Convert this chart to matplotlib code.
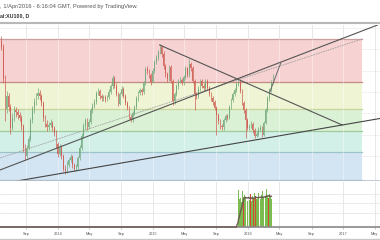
import matplotlib
matplotlib.use('Agg')
import matplotlib.pyplot as plt
import matplotlib.dates as mdates
import numpy as np
import pandas as pd

plt.rcParams['font.family'] = ['Liberation Sans', 'DejaVu Sans']

# ---------------- data (price in thousands, weekly candles) ----------------
first_open = 92.0
closes = [90.5, 83.0, 76.0, 79.0, 76.5, 71.5, 74.0, 75.8, 75.3, 74.5,
          73.9, 72.0, 67.0, 65.0, 67.0, 69.0, 73.4, 76.0, 77.7, 79.0,
          79.8, 79.0, 77.5, 74.0, 72.5, 71.8, 72.3, 72.7, 71.5, 70.4,
          67.8, 65.5, 67.0, 65.0, 62.0, 61.5, 63.0, 64.0, 64.8, 62.8,
          62.0, 62.5, 64.5, 67.0, 69.8, 72.0, 73.4, 71.9, 73.0, 75.8,
          76.8, 77.6, 79.8, 80.3, 79.0, 78.5, 78.8, 78.3, 78.8, 80.0,
          81.3, 83.3, 81.5, 79.5, 77.3, 79.5, 80.8, 79.0, 77.5, 76.3,
          74.2, 73.5, 75.0, 76.5, 78.5, 79.8, 80.5, 80.0, 82.0, 85.3,
          84.8, 84.0, 82.3, 85.0, 87.0, 88.0, 89.3, 90.6, 89.0, 86.0,
          84.2, 83.0, 85.8, 82.5, 77.8, 79.5, 81.3, 82.5, 82.8, 82.2,
          83.5, 85.5, 84.0, 86.5, 85.5, 82.5, 79.5, 79.0, 80.8, 82.5,
          81.5, 80.9, 82.6, 81.0, 79.6, 78.6, 77.6, 76.3, 74.5, 73.2,
          72.0, 71.7, 73.5, 74.3, 74.0, 76.5, 78.2, 79.5, 80.5, 81.8,
          82.3, 80.3, 77.5, 75.8, 73.5, 71.5, 72.0, 72.5, 71.0, 69.8,
          70.2, 71.2, 71.5, 70.0, 72.8, 75.8, 78.5, 80.5, 82.2, 83.5]
highs = [93.2, 91.2, 84.0, 80.2, 79.8, 77.2, 75.0, 76.8, 76.6, 76.0,
         75.3, 74.6, 72.5, 67.8, 67.6, 69.8, 74.0, 76.8, 78.5, 79.8,
         81.0, 80.4, 79.5, 77.9, 74.6, 73.4, 73.0, 73.6, 73.3, 72.1,
         71.0, 68.3, 67.8, 67.6, 65.4, 62.8, 63.8, 64.6, 65.6, 65.2,
         63.4, 63.2, 65.0, 67.6, 70.4, 72.7, 74.0, 73.9, 73.6, 76.3,
         77.4, 78.3, 80.3, 80.9, 80.8, 79.6, 79.4, 79.4, 79.3, 80.6,
         81.9, 83.9, 83.7, 82.0, 80.0, 79.9, 81.3, 81.2, 79.5, 78.0,
         76.8, 74.7, 75.5, 77.0, 79.0, 80.3, 81.0, 81.0, 82.5, 85.9,
         86.0, 85.4, 84.5, 85.5, 87.6, 88.6, 89.9, 91.3, 91.0, 89.5,
         86.5, 84.7, 86.4, 86.3, 83.0, 80.0, 81.8, 83.0, 83.4, 83.3,
         84.0, 86.0, 85.9, 87.8, 87.0, 86.0, 83.0, 80.1, 81.3, 83.0,
         83.0, 82.1, 83.1, 83.0, 81.5, 80.1, 79.1, 78.1, 76.8, 75.0,
         73.7, 72.6, 74.0, 74.8, 74.9, 77.0, 78.7, 80.0, 81.0, 82.3,
         82.9, 82.7, 80.8, 78.0, 76.3, 74.0, 72.6, 73.2, 73.0, 71.5,
         70.8, 71.8, 72.2, 72.0, 73.3, 76.3, 79.0, 81.0, 82.8, 84.1]
lows = [89.8, 82.0, 73.3, 75.2, 75.5, 70.2, 71.0, 73.2, 74.2, 73.6,
        73.2, 71.2, 66.0, 64.2, 64.5, 66.4, 68.5, 72.8, 75.2, 77.0,
        78.4, 78.2, 76.8, 73.2, 71.8, 70.9, 71.2, 71.7, 70.8, 69.6,
        67.0, 64.7, 65.0, 64.3, 61.5, 60.9, 61.0, 62.4, 63.5, 62.2,
        61.6, 61.6, 62.0, 64.0, 66.5, 69.3, 71.4, 71.2, 71.3, 72.6,
        75.2, 76.2, 77.2, 79.2, 78.4, 77.8, 78.0, 77.6, 77.9, 78.4,
        79.6, 80.8, 81.0, 79.0, 76.8, 76.9, 79.0, 78.6, 77.0, 75.8,
        73.6, 72.9, 73.0, 74.6, 76.0, 78.0, 79.3, 79.4, 79.6, 81.6,
        84.1, 83.3, 81.7, 82.0, 84.5, 86.5, 87.5, 88.8, 88.3, 85.4,
        83.6, 82.4, 82.6, 82.0, 77.0, 77.2, 79.0, 80.8, 82.0, 81.6,
        81.7, 83.0, 83.4, 83.6, 85.0, 82.0, 75.8, 78.4, 78.6, 80.3,
        81.0, 80.3, 80.4, 80.5, 79.0, 78.0, 77.0, 75.8, 70.0, 72.6,
        71.4, 71.0, 71.2, 73.0, 73.4, 73.6, 76.0, 77.7, 79.0, 80.0,
        81.3, 79.8, 77.0, 75.2, 69.3, 71.0, 71.0, 71.5, 70.4, 69.3,
        69.4, 69.8, 70.8, 69.4, 69.8, 72.4, 75.4, 78.0, 80.0, 81.8]

# volume (only recent history is available), 2-business-day bars
volume = [2.2, 2.4, 3.9, 2.9, 2.8, 3.1, 2.6, 3.8, 3.2, 2.8,
          3.4, 2.8, 3.1, 3.2, 2.7, 3.0, 3.2, 2.8, 3.5, 3.0,
          2.7, 3.3, 2.9, 3.1, 3.6, 3.3, 2.8, 3.0, 2.9, 3.6,
          2.7, 3.2, 3.0, 3.4, 2.8, 3.8, 3.2, 2.9, 3.3, 3.1,
          4.0, 3.0, 3.3, 3.1, 3.5, 2.9, 3.2, 3.0]
vol_up = [0, 0, 1, 1, 0, 1, 1, 1, 1, 0, 1, 1, 1, 0, 1, 1, 1, 1, 0, 1,
          1, 1, 0, 1, 1, 0, 1, 1, 1, 1, 0, 1, 1, 1, 1, 1, 1, 0, 1, 1,
          1, 1, 1, 0, 1, 1, 1, 1]

# Fibonacci retracement levels (thousands) and band colours
fib_levels = [92.4, 82.35, 76.0, 70.85, 65.95, 59.4]
fib_line_colors = ['#cc9e9e', '#c48a80', '#c9d49c', '#9ccc9c', '#9cc4c8', '#a4b8cc']
fib_fill_colors = ['#f6d2d2', '#eff4d4', '#daf1d5', '#d3f0e8', '#d3e5f3']
fib_start, fib_end = '2012-12-01', '2017-03-14'
fib_trend = [('2013-05-24', 64.55), ('2017-03-14', 92.4)]

# drawn trend lines (anchor date, price)
trend_desc = [('2015-01-27', 91.0), ('2016-12-27', 72.3)]
trend_low = [('2013-07-31', 59.2), ('2017-05-22', 73.8)]
trend_mid = [('2013-05-24', 61.75), ('2017-05-22', 95.9)]
trend_proj = [('2016-03-25', 80.0), ('2016-05-06', 86.8)]

tick_dates = ['2013-09-01', '2014-01-01', '2014-05-01', '2014-09-01', '2015-01-01',
              '2015-05-01', '2015-09-01', '2016-01-01', '2016-05-01', '2016-09-01',
              '2017-01-01', '2017-05-01']
tick_labels = ['Sep', '2014', 'May', 'Sep', '2015', 'May', 'Sep', '2016', 'May',
               'Sep', '2017', 'May']

# ---------------- figure ----------------
W, H = 380, 240
fig = plt.figure(figsize=(W / 100, H / 100), dpi=100)
fig.patch.set_facecolor('white')

ax = fig.add_axes([0, 1 - 181 / H, 1, 156 / H])
axv = fig.add_axes([0, 1 - 227 / H, 1, 45 / H])

xlim = (pd.Timestamp('2013-05-24'), pd.Timestamp('2017-05-22'))
tdates = pd.to_datetime(tick_dates)

for a in (ax, axv):
    a.set_xlim(*xlim)
    for s in a.spines.values():
        s.set_visible(False)
    a.set_yticks([])
    for t in tdates:
        a.axvline(t, color='#e4e4e4', lw=0.6, zorder=0.5)

ax.set_ylim(59.17, 95.68)
ax.set_xticks([])
for lv in [65, 70, 75, 80, 85, 90, 95]:
    ax.axhline(lv, color='#efefef', lw=0.6, zorder=0.2)

# fib bands
fs, fe = pd.Timestamp(fib_start), pd.Timestamp(fib_end)
for k in range(len(fib_fill_colors)):
    ax.fill_between([fs, fe], fib_levels[k + 1], fib_levels[k],
                    color=fib_fill_colors[k], lw=0, zorder=1)
for lv, c in zip(fib_levels, fib_line_colors):
    ax.plot([fs, fe], [lv, lv], color=c, lw=0.9, zorder=1.2)
for t in tdates:
    if t < fe:
        ax.plot([t, t], [fib_levels[-1], fib_levels[0]], color='white', lw=0.6,
                alpha=0.45, zorder=1.3)

# fib trend line
ax.plot(pd.to_datetime([p[0] for p in fib_trend]), [p[1] for p in fib_trend],
        color='#a0a0a0', lw=0.6, ls=(0, (2, 1)), zorder=2)

# candles
dates = pd.date_range('2013-05-29', periods=len(closes), freq='7D')
opens = [first_open] + closes[:-1]
up_c, dn_c = '#72a97c', '#cf5c52'
cols = [up_c if c >= o else dn_c for o, c in zip(opens, closes)]
ax.vlines(dates, lows, highs, colors=cols, lw=0.5, zorder=3)
bottoms = [min(o, c) for o, c in zip(opens, closes)]
heights = [max(abs(c - o), 0.15) for o, c in zip(opens, closes)]
ax.bar(dates, heights, bottom=bottoms, width=3.2, color=cols, lw=0, alpha=0.85,
       zorder=3.1)

# trend lines
def tl(pts, **kw):
    d0 = mdates.date2num(pd.Timestamp(pts[0][0]).to_pydatetime())
    d1 = mdates.date2num(pd.Timestamp(pts[1][0]).to_pydatetime())
    ax.axline((d0, pts[0][1]), (d1, pts[1][1]), **kw)

ax.plot(pd.to_datetime([p[0] for p in trend_desc]), [p[1] for p in trend_desc],
        color='#555555', lw=0.8, zorder=4)
tl(trend_low, color='#444444', lw=0.8, zorder=4)
tl(trend_mid, color='#555555', lw=0.8, zorder=4)
ax.plot(pd.to_datetime([p[0] for p in trend_proj]), [p[1] for p in trend_proj],
        color='#6a6a6a', lw=0.7, zorder=4)
ax.set_xlim(*xlim)
ax.set_ylim(59.17, 95.68)

# panel separator
ax.axhline(59.17, color='#b8c0c8', lw=1.2, zorder=5)

# ---------------- volume ----------------
axv.set_ylim(0, 4.74)
for lv in [1.5, 2.5, 3.5]:
    axv.axhline(lv, color='#e8e8e8', lw=0.6, zorder=0.4)
vdates = pd.bdate_range('2015-11-20', periods=len(volume), freq='2B')
vcols = ['#7cbb50' if u else '#d04a32' for u in vol_up]
axv.bar(vdates, volume, width=2.9, color=vcols, lw=0, zorder=2)
zero_dates = pd.bdate_range('2013-05-20', '2015-11-19', freq='2B')
vser = pd.Series(list(np.zeros(len(zero_dates))) + volume,
                 index=zero_dates.append(vdates))
vma = vser.rolling(10, min_periods=1).mean()
axv.plot(vma.index, vma.values, color='#6a5a50', lw=1.0, zorder=3, clip_on=False)
axv.spines['bottom'].set_visible(True)
axv.spines['bottom'].set_color('#888888')
axv.spines['bottom'].set_linewidth(1.2)
axv.set_xticks(tdates)
axv.set_xticklabels(tick_labels, fontsize=2.8, color='#555555')
axv.tick_params(axis='x', length=1.5, width=0.5, color='#aaaaaa', pad=2.2)
axv.set_xlim(*xlim)

# header
fig.add_artist(plt.Line2D([0, 1], [1 - 22.5 / H] * 2, color='#b8b8b8', lw=1.5))
fig.add_artist(plt.Line2D([0, 1], [1 - 239.2 / H] * 2, color='#c8c8c8', lw=1.0))
fig.text(0 / W, 1 - 6.5 / H, ', 1/Apr/2016 - 6:16:04 GMT, Powered by TradingView.',
         fontsize=4.15, color='#555555', va='center', ha='left')
fig.text(0 / W, 1 - 16 / H, 'al:XU100, D', fontsize=3.8, color='#333333',
         fontweight='bold', va='center', ha='left')

fig.savefig('out.png', dpi=100, facecolor='white')
